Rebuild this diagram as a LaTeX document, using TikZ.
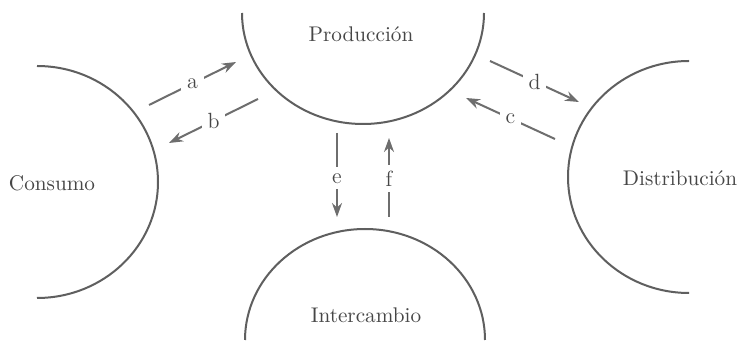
\documentclass[tikz,border=0pt]{standalone}
\usetikzlibrary{arrows.meta}
\definecolor{ink}{RGB}{95,95,95}
\definecolor{flowink}{RGB}{110,110,110}
\definecolor{txt}{RGB}{70,70,70}
\begin{document}
\begin{tikzpicture}[x=0.5pt,y=-0.5pt,
  arcline/.style={draw=ink,line width=1pt},
  flow/.style={draw=flowink,line width=1pt,-{Stealth[length=7pt,width=5pt]}},
  lbl/.style={fill=white,inner sep=3pt,text=txt,font=\fontsize{11}{13}\selectfont},
  sector/.style={text=txt,font=\fontsize{10.6}{12}\selectfont}]
\useasboundingbox[fill=white] (0,0) rectangle (738,341);
% sectors
\draw[arcline] (484,13) arc[start angle=0,end angle=-180,x radius=60.5pt,y radius=55.5pt];
\draw[arcline] (37,66) arc[start angle=90,end angle=-90,x radius=60.5pt,y radius=58pt];
\draw[arcline] (689,61) arc[start angle=90,end angle=270,x radius=60.5pt,y radius=58pt];
\draw[arcline] (245,340) arc[start angle=180,end angle=0,x radius=60pt,y radius=55.5pt];
\node[sector] (prod) at (361,34) {Producción};
\node[sector] (cons) at (52,183) {Consumo};
\node[sector] (dist) at (680,178) {Distribución};
\node[sector] (inter) at (366,315) {Intercambio};
% arrow ends
\coordinate (a1) at (149,105); \coordinate (a2) at (236,62);
\coordinate (b1) at (258,99);  \coordinate (b2) at (169,143);
\coordinate (d1) at (490,61);  \coordinate (d2) at (579,102);
\coordinate (c1) at (555,139); \coordinate (c2) at (466,98);
\coordinate (e1) at (337,133); \coordinate (e2) at (337,217);
\coordinate (f1) at (389,217); \coordinate (f2) at (389,138);
\draw[flow] (a1) -- node[lbl] (la) {a} (a2);
\draw[flow] (b1) -- node[lbl] (lb) {b} (b2);
\draw[flow] (d1) -- node[lbl] (ld) {d} (d2);
\draw[flow] (c1) -- node[lbl] (lc) {c} (c2);
\draw[flow] (e1) -- node[lbl,pos=0.54] (le) {e} (e2);
\draw[flow] (f1) -- node[lbl,pos=0.49] (lf) {f} (f2);
\end{tikzpicture}
\end{document}
